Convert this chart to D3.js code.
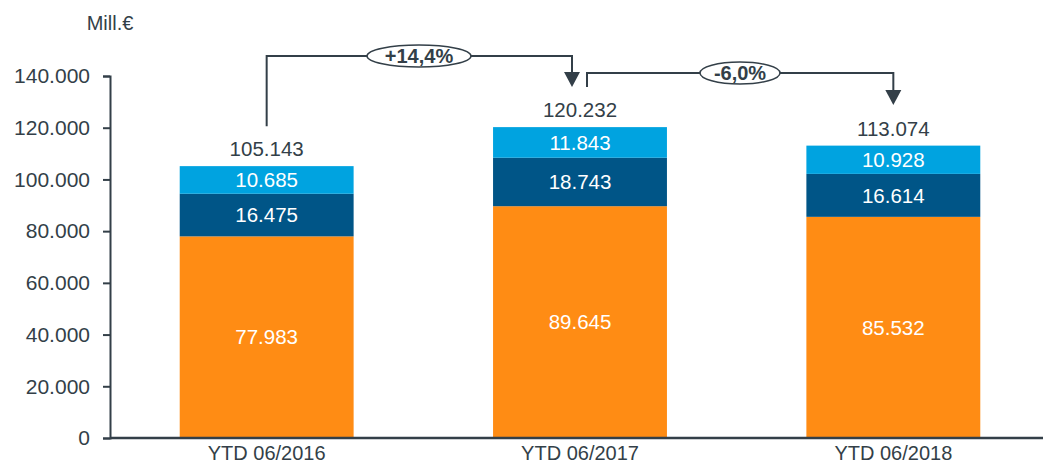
<!DOCTYPE html>
<html>
<head>
<meta charset="utf-8">
<script src="https://cdn.jsdelivr.net/npm/d3@7"></script>
<style>
  html, body { margin: 0; padding: 0; background: #fff; }
  svg { display: block; font-family: "Liberation Sans", Arial, sans-serif; }
</style>
</head>
<body>
<svg id="chart" width="1043" height="464"></svg>
<script>
// Periods and stacked segments (Mill. €)
const categories = ["YTD 06/2016", "YTD 06/2017", "YTD 06/2018"];
const seriesBase = [77983, 89645, 85532];
const seriesMid  = [16475, 18743, 16614];
const seriesTop  = [10685, 11843, 10928];
const totals     = [105143, 120232, 113074];
const changeLabels = ["+14,4%", "-6,0%"];
const yTicks = [0, 20000, 40000, 60000, 80000, 100000, 120000, 140000];
const unitLabel = "Mill.€";

const colors = ["#FF8C14", "#005587", "#00A3E0"];
const ink = "#333F48";
const fontFamily = "Liberation Sans, Arial, sans-serif";

const de = d3.formatLocale({ decimal: ",", thousands: ".", grouping: [3], currency: ["", "€"] });
const fmt = de.format(",");

const svg = d3.select("#chart");

const x = d3.scaleBand()
  .domain(categories)
  .range([110, 1050])
  .paddingInner(0.445)
  .paddingOuter(0.2225);

const y = d3.scaleLinear().domain([0, 140000]).range([438, 76]);

// stacked rows
const rows = categories.map((c, i) => ({ cat: c, base: seriesBase[i], mid: seriesMid[i], top: seriesTop[i] }));
const keys = ["base", "mid", "top"];
const stacked = d3.stack().keys(keys)(rows);

const layer = svg.append("g").selectAll("g").data(stacked).join("g")
  .attr("fill", (d, i) => colors[i]);

layer.selectAll("rect").data(d => d).join("rect")
  .attr("x", d => x(d.data.cat))
  .attr("width", x.bandwidth())
  .attr("y", d => y(d[1]))
  .attr("height", d => y(d[0]) - y(d[1]));

// segment value labels
layer.selectAll("text").data(d => d).join("text")
  .attr("x", d => x(d.data.cat) + x.bandwidth() / 2)
  .attr("y", d => (y(d[0]) + y(d[1])) / 2)
  .attr("dy", "0.35em")
  .attr("text-anchor", "middle")
  .attr("fill", "#fff")
  .attr("font-size", 20.5)
  .text(d => fmt(d[1] - d[0]));

// totals above bars
svg.append("g").selectAll("text").data(categories).join("text")
  .attr("x", c => x(c) + x.bandwidth() / 2)
  .attr("y", (c, i) => y(totals[i]) - 10)
  .attr("text-anchor", "middle")
  .attr("fill", ink)
  .attr("font-size", 20.5)
  .text((c, i) => fmt(totals[i]));

// y axis
const yAxis = d3.axisLeft(y).tickValues(yTicks).tickSize(7).tickPadding(13)
  .tickFormat(d => fmt(d));
const gy = svg.append("g").attr("transform", "translate(110,0)").call(yAxis);
gy.select(".domain").attr("stroke", ink).attr("stroke-width", 2);
gy.selectAll(".tick line").attr("stroke", ink).attr("stroke-width", 2);
gy.selectAll(".tick text").attr("fill", ink).attr("font-size", 21)
  .attr("font-family", fontFamily);

// x axis
const xAxis = d3.axisBottom(x).tickSize(0).tickPadding(8);
const gx = svg.append("g").attr("transform", "translate(0,438)").call(xAxis);
gx.select(".domain").attr("d", "M110,0H1043").attr("stroke", ink).attr("stroke-width", 2.5);
gx.selectAll(".tick text").attr("fill", ink).attr("font-size", 20)
  .attr("font-family", fontFamily);

// unit label
svg.append("text")
  .attr("x", 110).attr("y", 30)
  .attr("text-anchor", "middle")
  .attr("fill", ink)
  .attr("font-size", 20)
  .text(unitLabel);

// change connectors between periods
const cx = c => x(c) + x.bandwidth() / 2;
const connectors = [
  { x0: cx(categories[0]), y0: y(totals[0]) - 40, x1: cx(categories[1]) - 8, level: 56, tip: 87, ex: 419, rx: 52 },
  { x0: cx(categories[1]) + 7, y0: y(totals[1]) - 40, x1: cx(categories[2]), level: 73, tip: 105, ex: 740, rx: 40 }
];

const conn = svg.append("g");
connectors.forEach((k, i) => {
  const headH = 15, headW = 8;
  conn.append("path")
    .attr("d", `M${k.x0},${k.y0}V${k.level}H${k.x1}V${k.tip - headH}`)
    .attr("fill", "none")
    .attr("stroke", ink)
    .attr("stroke-width", 2);
  conn.append("path")
    .attr("d", `M${k.x1 - headW},${k.tip - headH}L${k.x1 + headW},${k.tip - headH}L${k.x1},${k.tip}Z`)
    .attr("fill", ink);
  conn.append("ellipse")
    .attr("cx", k.ex).attr("cy", k.level)
    .attr("rx", k.rx).attr("ry", 11)
    .attr("fill", "#fff")
    .attr("stroke", ink)
    .attr("stroke-width", 1.5);
  conn.append("text")
    .attr("x", k.ex).attr("y", k.level)
    .attr("dy", "0.36em")
    .attr("text-anchor", "middle")
    .attr("fill", ink)
    .attr("font-size", 20)
    .attr("font-weight", "bold")
    .text(changeLabels[i]);
});
</script>
</body>
</html>
